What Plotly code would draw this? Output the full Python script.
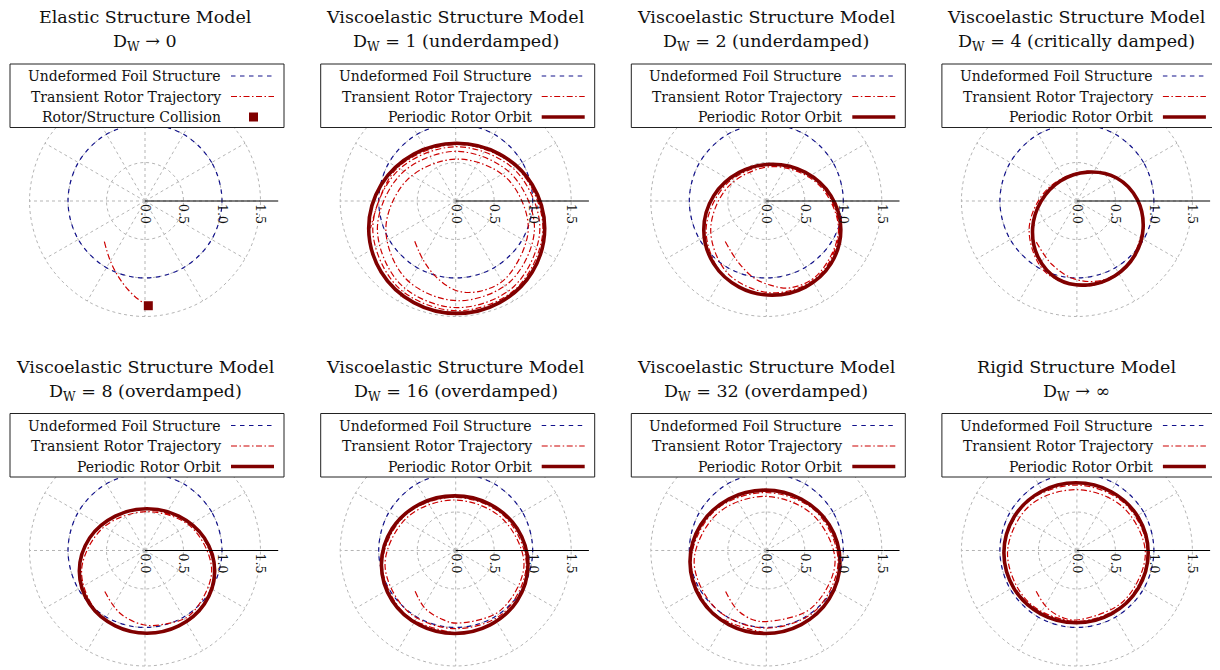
import numpy as np
import plotly.graph_objects as go

W, H = 1220, 670
PAGE_MARGIN = 8          # default body margin of the written page
FIG_W, FIG_H = W - PAGE_MARGIN, H - PAGE_MARGIN

# ---------------- text ----------------
TITLE_TOP = ["Elastic Structure Model", "Viscoelastic Structure Model", "Viscoelastic Structure Model",
             "Viscoelastic Structure Model", "Viscoelastic Structure Model", "Viscoelastic Structure Model",
             "Viscoelastic Structure Model", "Rigid Structure Model"]
TITLE_BOTTOM = ["D<sub>W</sub> → 0", "D<sub>W</sub> = 1 (underdamped)", "D<sub>W</sub> = 2 (underdamped)",
                "D<sub>W</sub> = 4 (critically damped)", "D<sub>W</sub> = 8 (overdamped)",
                "D<sub>W</sub> = 16 (overdamped)", "D<sub>W</sub> = 32 (overdamped)", "D<sub>W</sub> → ∞"]
LEGEND_FOIL = "Undeformed Foil Structure"
LEGEND_TRANSIENT = "Transient Rotor Trajectory"
LEGEND_ORBIT = "Periodic Rotor Orbit"
LEGEND_COLLISION = "Rotor/Structure Collision"

RADIAL_TICKS = [0.0, 0.5, 1.0, 1.5]
RADIAL_TICK_TEXT = ["0.0", "0.5", "1.0", "1.5"]
GRID_RADII = [0.5, 1.0, 1.5]
SPOKE_ANGLES = [0, 30, 60, 90, 120, 150, 180, 210, 240, 270, 300, 330]
CIRCLE_THETA = [0, 30, 60, 90, 120, 150, 180, 210, 240, 270, 300, 330, 360]

# ---------------- data ----------------
# undeformed foil structure: unit circle
FOIL_THETA = [0, 30, 60, 90, 120, 150, 180, 210, 240, 270, 300, 330, 360]
FOIL_R = [1.0, 1.0, 1.0, 1.0, 1.0, 1.0, 1.0, 1.0, 1.0, 1.0, 1.0, 1.0, 1.0]

# orbit sample angles about each orbit centre
ORBIT_PHI = [0, 30, 60, 90, 120, 150, 180, 210, 240, 270, 300, 330, 360]

# Panel 1 (elastic, collision)
P1_TRANS_X = [-0.528, -0.455, -0.346, -0.216, -0.087, 0.009, 0.043]
P1_TRANS_Y = [-0.528, -0.766, -0.983, -1.156, -1.277, -1.338, -1.36]
P1_COLLISION_X = [0.043]
P1_COLLISION_Y = [-1.36]

# Panel 2 (D_W = 1)
P2_CENTER = [0.013, -0.355]
P2_ORBIT_R = [1.143, 1.133, 1.114, 1.105, 1.114, 1.133, 1.143, 1.133, 1.114, 1.105, 1.114, 1.133, 1.143]
P2_TRANS_PHI = [197, 224, 248, 270, 290, 315, 360, 405, 450, 495, 540, 585, 630, 675, 720, 765, 810, 855,
                900, 945, 990, 1035, 1080, 1125, 1170, 1215, 1260, 1305, 1350, 1395, 1440, 1485, 1530, 1575, 1620]
P2_TRANS_R = [0.57, 0.60, 0.69, 0.81, 0.87, 0.91, 0.93, 0.92, 0.90, 0.90, 0.92, 0.93, 0.94, 0.98, 1.01, 1.00,
              1.00, 1.01, 1.03, 1.03, 1.03, 1.06, 1.08, 1.07, 1.06, 1.07, 1.09, 1.08, 1.07, 1.10, 1.12, 1.11,
              1.09, 1.10, 1.12]

# Panel 3 (D_W = 2)
P3_CENTER = [0.078, -0.373]
P3_ORBIT_R = [0.89, 0.88, 0.86, 0.85, 0.86, 0.88, 0.89, 0.88, 0.86, 0.85, 0.86, 0.88, 0.89]
P3_TRANS_PHI = [194, 222, 249, 268, 287, 315, 360, 405, 450, 495, 540, 585, 630, 675, 720, 765, 810, 855,
                900, 945, 990, 1035, 1080]
P3_TRANS_R = [0.63, 0.61, 0.67, 0.72, 0.79, 0.83, 0.86, 0.84, 0.82, 0.80, 0.80, 0.81, 0.82, 0.85, 0.87, 0.86,
              0.84, 0.84, 0.86, 0.87, 0.85, 0.87, 0.89]

# Panel 4 (D_W = 4)
P4_CENTER = [0.14, -0.355]
P4_ORBIT_R = [0.72, 0.745, 0.755, 0.73, 0.71, 0.70, 0.715, 0.745, 0.765, 0.735, 0.71, 0.705, 0.72]
P4_TRANS_PHI = [195, 225, 255, 285, 315, 360, 405, 450, 495, 540, 585, 630, 675, 720]
P4_TRANS_R = [0.69, 0.66, 0.68, 0.70, 0.70, 0.72, 0.75, 0.74, 0.73, 0.76, 0.79, 0.75, 0.71, 0.72]

# Panel 5 (D_W = 8)
P5_CENTER = [0.026, -0.266]
P5_ORBIT_R = [0.879, 0.860, 0.824, 0.808, 0.824, 0.860, 0.879, 0.860, 0.824, 0.808, 0.824, 0.860, 0.879]
P5_TRANS_PHI = [206, 237, 266, 290, 315, 360, 405, 450, 495, 540, 585, 630, 675, 720, 765, 810]
P5_TRANS_R = [0.61, 0.65, 0.70, 0.73, 0.80, 0.84, 0.81, 0.77, 0.80, 0.85, 0.84, 0.80, 0.85, 0.87, 0.84, 0.81]

# Panel 6 (D_W = 16)
P6_CENTER = [-0.013, -0.184]
P6_ORBIT_R = [0.952, 0.937, 0.908, 0.894, 0.908, 0.937, 0.952, 0.937, 0.908, 0.894, 0.908, 0.937, 0.952]
P6_TRANS_PHI = [214, 236, 258, 272, 315, 360, 405, 450, 495, 540, 585, 630, 675, 720, 765, 810, 855, 900, 945, 990]
P6_TRANS_R = [0.62, 0.686, 0.73, 0.76, 0.84, 0.90, 0.86, 0.84, 0.87, 0.905, 0.86, 0.83, 0.89, 0.93, 0.90,
              0.875, 0.91, 0.94, 0.91, 0.89]

# Panel 7 (D_W = 32)
P7_CENTER = [-0.017, -0.147]
P7_ORBIT_R = [0.974, 0.963, 0.941, 0.931, 0.941, 0.963, 0.974, 0.963, 0.941, 0.931, 0.941, 0.963, 0.974]
P7_TRANS_PHI = [217, 240, 259, 273.5, 315, 360, 405, 450, 495, 540, 585, 630, 675, 720, 765, 810, 855, 900, 945, 990]
P7_TRANS_R = [0.64, 0.72, 0.77, 0.775, 0.85, 0.91, 0.87, 0.85, 0.88, 0.92, 0.88, 0.86, 0.91, 0.95, 0.93,
              0.90, 0.93, 0.96, 0.94, 0.92]

# Panel 8 (rigid)
P8_CENTER = [-0.011, -0.03]
P8_ORBIT_R = [0.937, 0.930, 0.916, 0.909, 0.916, 0.930, 0.937, 0.930, 0.916, 0.909, 0.916, 0.930, 0.937]
P8_TRANS_PHI = [224, 243, 260, 272.6, 315, 360, 405, 450, 495, 540, 585, 630, 675, 720, 765, 810, 855, 900, 945, 990]
P8_TRANS_R = [0.72, 0.81, 0.863, 0.87, 0.88, 0.90, 0.85, 0.82, 0.86, 0.89, 0.89, 0.89, 0.91, 0.93, 0.90,
              0.88, 0.91, 0.94, 0.92, 0.905]

PANELS = [
    None,
    (P2_CENTER, P2_ORBIT_R, P2_TRANS_PHI, P2_TRANS_R),
    (P3_CENTER, P3_ORBIT_R, P3_TRANS_PHI, P3_TRANS_R),
    (P4_CENTER, P4_ORBIT_R, P4_TRANS_PHI, P4_TRANS_R),
    (P5_CENTER, P5_ORBIT_R, P5_TRANS_PHI, P5_TRANS_R),
    (P6_CENTER, P6_ORBIT_R, P6_TRANS_PHI, P6_TRANS_R),
    (P7_CENTER, P7_ORBIT_R, P7_TRANS_PHI, P7_TRANS_R),
    (P8_CENTER, P8_ORBIT_R, P8_TRANS_PHI, P8_TRANS_R),
]

# ---------------- style / geometry ----------------
FOIL_COLOR = "#12128c"
TRANS_COLOR = "#cc0000"
ORBIT_COLOR = "#800000"
GRID_COLOR = "#b5b5b5"
FONT = "DejaVu Serif"
TEXT_COLOR = "#111111"
TITLE_SIZE = 17.5
LEGEND_SIZE = 14
TICK_SIZE = 12.5
FOIL_DASH = "4.5px,4.5px"
TRANS_DASH = "6px,2.5px,1.5px,2.5px"
PX_PER_UNIT = 77.0
RMAX = 1.5
AXIS_EXT = 1.73
COL_X = [145.0, 455.7, 766.3, 1076.9]
ROW_Y = [201.0, 550.5]


def to_polar(x, y):
    x = np.asarray(x, float)
    y = np.asarray(y, float)
    return np.hypot(x, y), np.degrees(np.arctan2(y, x))


def about_center(center, phi, rad):
    p = np.radians(np.asarray(phi, float))
    rad = np.asarray(rad, float)
    return center[0] + rad * np.cos(p), center[1] + rad * np.sin(p)


def px(x):
    return (x - PAGE_MARGIN) / FIG_W


def py(y):
    return 1 - (y - PAGE_MARGIN) / FIG_H


fig = go.Figure()
shapes = []
annotations = []
layout_polars = {}
RANGE_MAX = RMAX + 0.02

for i in range(8):
    row, col = divmod(i, 4)
    cx, cy = COL_X[col], ROW_Y[row]
    name = "polar" if i == 0 else f"polar{i + 1}"
    rpx = RANGE_MAX * PX_PER_UNIT
    layout_polars[name] = dict(
        domain=dict(x=[px(cx - rpx), px(cx + rpx)], y=[py(cy + rpx), py(cy - rpx)]),
        bgcolor="white",
        radialaxis=dict(range=[0, RANGE_MAX], tickvals=RADIAL_TICKS, ticktext=RADIAL_TICK_TEXT,
                        tickangle=90, angle=0, side="clockwise", showline=True, linecolor="black",
                        linewidth=1, showgrid=False,
                        ticks="", tickfont=dict(family=FONT, size=TICK_SIZE, color=TEXT_COLOR)),
        angularaxis=dict(showgrid=False, showline=False, showticklabels=False, ticks=""),
    )

    # grid: spokes and circles
    sr, st = [], []
    for a in SPOKE_ANGLES:
        sr += [0, RMAX, None]
        st += [a, a, None]
    fig.add_trace(go.Scatterpolar(r=sr, theta=st, mode="lines", subplot=name, showlegend=False,
                                  hoverinfo="skip", line=dict(color=GRID_COLOR, width=1, dash="dot")))
    for gr in GRID_RADII:
        fig.add_trace(go.Scatterpolar(r=[gr] * len(CIRCLE_THETA), theta=CIRCLE_THETA, mode="lines",
                                      subplot=name, showlegend=False, hoverinfo="skip",
                                      line=dict(color=GRID_COLOR, width=1, dash="dot", shape="spline")))

    # foil
    fig.add_trace(go.Scatterpolar(r=FOIL_R, theta=FOIL_THETA, mode="lines", subplot=name, showlegend=False,
                                  line=dict(color=FOIL_COLOR, width=1.2, dash=FOIL_DASH, shape="spline")))

    if i == 0:
        r, t = to_polar(P1_TRANS_X, P1_TRANS_Y)
        fig.add_trace(go.Scatterpolar(r=r, theta=t, mode="lines", subplot=name, showlegend=False,
                                      line=dict(color=TRANS_COLOR, width=1.2, dash=TRANS_DASH, shape="spline")))
        r, t = to_polar(P1_COLLISION_X, P1_COLLISION_Y)
        fig.add_trace(go.Scatterpolar(r=r, theta=t, mode="markers", subplot=name, showlegend=False,
                                      cliponaxis=False,
                                      marker=dict(symbol="square", size=9, color=ORBIT_COLOR)))
    else:
        center, orbit_r, tphi, tr = PANELS[i]
        x, y = about_center(center, tphi, tr)
        r, t = to_polar(x, y)
        fig.add_trace(go.Scatterpolar(r=r, theta=t, mode="lines", subplot=name, showlegend=False,
                                      line=dict(color=TRANS_COLOR, width=1.2, dash=TRANS_DASH, shape="spline")))
        x, y = about_center(center, ORBIT_PHI, orbit_r)
        r, t = to_polar(x, y)
        fig.add_trace(go.Scatterpolar(r=r, theta=t, mode="lines", subplot=name, showlegend=False,
                                      line=dict(color=ORBIT_COLOR, width=3.6, shape="spline")))

    # axis line extension beyond the plotted range
    shapes.append(dict(type="line", xref="paper", yref="paper", x0=px(cx + rpx), x1=px(cx + AXIS_EXT * PX_PER_UNIT),
                       y0=py(cy), y1=py(cy), line=dict(color="black", width=1), layer="above"))

    # titles
    annotations.append(dict(text=TITLE_TOP[i], x=px(cx), y=py(cy - 184), xref="paper", yref="paper",
                            xanchor="center", yanchor="middle", showarrow=False,
                            font=dict(family=FONT, size=TITLE_SIZE, color=TEXT_COLOR)))
    annotations.append(dict(text=TITLE_BOTTOM[i], x=px(cx), y=py(cy - 158), xref="paper", yref="paper",
                            xanchor="center", yanchor="middle", showarrow=False,
                            font=dict(family=FONT, size=TITLE_SIZE, color=TEXT_COLOR)))

    # legend box
    shapes.append(dict(type="rect", xref="paper", yref="paper", x0=px(cx - 135), x1=px(cx + 139),
                       y0=py(cy - 137), y1=py(cy - 73.5), fillcolor="white",
                       line=dict(color="#222222", width=1), layer="above"))
    rows_y = [cy - 125, cy - 104.5, cy - 84]
    labels = [LEGEND_FOIL, LEGEND_TRANSIENT, LEGEND_COLLISION if i == 0 else LEGEND_ORBIT]
    for ry, lab in zip(rows_y, labels):
        annotations.append(dict(text=lab, x=px(cx + 78), y=py(ry), xref="paper", yref="paper",
                                xanchor="right", yanchor="middle", showarrow=False,
                                font=dict(family=FONT, size=LEGEND_SIZE, color=TEXT_COLOR)))
    shapes.append(dict(type="line", xref="paper", yref="paper", x0=px(cx + 86), x1=px(cx + 129),
                       y0=py(rows_y[0]), y1=py(rows_y[0]),
                       line=dict(color=FOIL_COLOR, width=1.2, dash=FOIL_DASH), layer="above"))
    shapes.append(dict(type="line", xref="paper", yref="paper", x0=px(cx + 86), x1=px(cx + 129),
                       y0=py(rows_y[1]), y1=py(rows_y[1]),
                       line=dict(color=TRANS_COLOR, width=1.2, dash=TRANS_DASH), layer="above"))
    if i == 0:
        shapes.append(dict(type="rect", xref="paper", yref="paper", x0=px(cx + 104), x1=px(cx + 113),
                           y0=py(rows_y[2] + 4.5), y1=py(rows_y[2] - 4.5), fillcolor=ORBIT_COLOR,
                           line=dict(width=0), layer="above"))
    else:
        shapes.append(dict(type="line", xref="paper", yref="paper", x0=px(cx + 86), x1=px(cx + 129),
                           y0=py(rows_y[2]), y1=py(rows_y[2]),
                           line=dict(color=ORBIT_COLOR, width=3.6), layer="above"))

fig.update_layout(width=FIG_W, height=FIG_H, margin=dict(l=0, r=0, t=0, b=0), paper_bgcolor="white",
                  plot_bgcolor="white", showlegend=False, shapes=shapes, annotations=annotations,
                  **layout_polars)

fig.write_html("out.html")
